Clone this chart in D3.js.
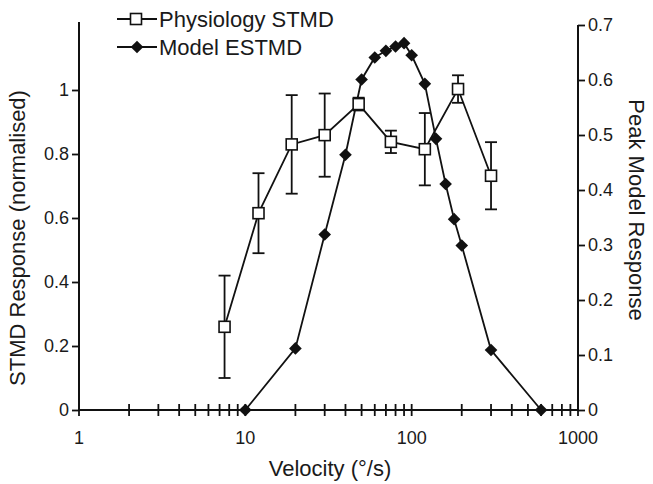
<!DOCTYPE html>
<html><head><meta charset="utf-8">
<script src="https://cdn.jsdelivr.net/npm/d3@7"></script>
<style>body{margin:0;background:#fff}svg{display:block}text{font-family:"Liberation Sans",Arial,sans-serif;fill:#1a1a1a}</style>
</head><body>
<svg id="c" width="653" height="484"></svg>
<script>
// Physiology STMD (left axis)
const physVel = [7.5, 12, 19, 30, 48, 75, 120, 190, 300];
const physResp = [0.26, 0.615, 0.83, 0.859, 0.956, 0.838, 0.815, 1.003, 0.732];
const physErr = [0.16, 0.125, 0.154, 0.13, 0.02, 0.035, 0.113, 0.043, 0.105];
// Model ESTMD (right axis)
const modelVel = [10, 20, 30, 40, 50, 60, 70, 80, 90, 100, 120, 140, 160, 180, 200, 300, 600];
const modelResp = [0, 0.112, 0.319, 0.464, 0.601, 0.641, 0.653, 0.661, 0.667, 0.645, 0.593, 0.493, 0.411, 0.347, 0.299, 0.109, 0];
const xTicks = [1, 10, 100, 1000];
const leftTicks = [0, 0.2, 0.4, 0.6, 0.8, 1];
const rightTicks = [0, 0.1, 0.2, 0.3, 0.4, 0.5, 0.6, 0.7];
const legendLabels = ["Physiology STMD", "Model ESTMD"];

const svg = d3.select("#c");
const X0 = 79, X1 = 578, Y0 = 410;
const x = d3.scaleLog().domain([1, 1000]).range([X0, X1]);
const yL = d3.scaleLinear().domain([0, 1.2]).range([Y0, 26]);
const yR = d3.scaleLinear().domain([0, 0.7]).range([Y0, 25]);
const ink = "#111";
const FONT = '"Liberation Sans",Arial,sans-serif';

// minor ticks
const minor = [];
for (let d = 1; d < 1000; d *= 10) for (let k = 2; k <= 9; k++) minor.push(d * k);

// x axis
const gx = svg.append("g");
gx.append("line").attr("x1", X0).attr("x2", X1).attr("y1", Y0).attr("y2", Y0).attr("stroke", ink).attr("stroke-width", 2);
gx.selectAll("line.t").data(xTicks.concat(minor)).enter().append("line")
  .attr("x1", d => x(d)).attr("x2", d => x(d)).attr("y1", Y0 - 6).attr("y2", Y0 + 6)
  .attr("stroke", ink).attr("stroke-width", 1.8);
gx.selectAll("text").data(xTicks).enter().append("text")
  .attr("x", d => x(d)).attr("y", Y0 + 34).attr("text-anchor", "middle")
  .style("font-size", "18px").text(d => d);
svg.append("text").attr("x", 330).attr("y", 476).attr("text-anchor", "middle")
  .style("font-size", "22px").text("Velocity (\u00B0/s)");

// left axis
const gl = svg.append("g").attr("transform", `translate(${X0},0)`)
  .call(d3.axisLeft(yL).tickValues(leftTicks).tickSize(7).tickPadding(3).tickFormat(d3.format("~g")));
gl.select(".domain").attr("stroke", ink).attr("stroke-width", 2).attr("d", `M0,${Y0}V22`);
gl.selectAll(".tick line").attr("stroke", ink).attr("stroke-width", 1.8);
gl.selectAll(".tick text").style("font-size", "18px").style("font-family", FONT).attr("fill", ink);
svg.append("text").attr("transform", "translate(25,238) rotate(-90)").attr("text-anchor", "middle")
  .style("font-size", "22px").text("STMD Response (normalised)");

// right axis
const gr = svg.append("g").attr("transform", `translate(${X1},0)`)
  .call(d3.axisRight(yR).tickValues(rightTicks).tickSize(7).tickPadding(3).tickFormat(d3.format("~g")));
gr.select(".domain").attr("stroke", ink).attr("stroke-width", 2).attr("d", `M0,${Y0}V25`);
gr.selectAll(".tick line").attr("stroke", ink).attr("stroke-width", 1.8);
gr.selectAll(".tick text").style("font-size", "18px").style("font-family", FONT).attr("fill", ink);
svg.append("text").attr("transform", "translate(629,210) rotate(90)").attr("text-anchor", "middle")
  .style("font-size", "22px").text("Peak Model Response");

// model line + diamonds
const model = modelVel.map((v, i) => ({v, r: modelResp[i]}));
svg.append("path").datum(model).attr("fill", "none").attr("stroke", ink).attr("stroke-width", 1.8)
  .attr("d", d3.line().x(d => x(d.v)).y(d => yR(d.r)));
const diamond = d3.symbol().type(d3.symbolSquare).size(80)();
svg.selectAll("path.dm").data(model).enter().append("path")
  .attr("d", diamond).attr("fill", ink)
  .attr("transform", d => `translate(${x(d.v)},${yR(d.r)}) rotate(45)`);

// physiology
const phys = physVel.map((v, i) => ({v, r: physResp[i], e: physErr[i]}));
const eb = svg.append("g").attr("stroke", ink).attr("stroke-width", 1.8);
phys.forEach(d => {
  const cx = x(d.v), t = yL(d.r + d.e), b = yL(d.r - d.e);
  eb.append("line").attr("x1", cx).attr("x2", cx).attr("y1", t).attr("y2", b);
  eb.append("line").attr("x1", cx - 6).attr("x2", cx + 6).attr("y1", t).attr("y2", t);
  eb.append("line").attr("x1", cx - 6).attr("x2", cx + 6).attr("y1", b).attr("y2", b);
});
svg.append("path").datum(phys).attr("fill", "none").attr("stroke", ink).attr("stroke-width", 1.8)
  .attr("d", d3.line().x(d => x(d.v)).y(d => yL(d.r)));
svg.selectAll("rect.sq").data(phys).enter().append("rect")
  .attr("x", d => x(d.v) - 5.5).attr("y", d => yL(d.r) - 5.5).attr("width", 11).attr("height", 11)
  .attr("fill", "#fff").attr("stroke", ink).attr("stroke-width", 1.6);

// legend
const lg = svg.append("g");
const rows = [19, 47];
rows.forEach((ry, i) => {
  lg.append("line").attr("x1", 117).attr("x2", 157).attr("y1", ry).attr("y2", ry).attr("stroke", ink).attr("stroke-width", 1.8);
  if (i === 0) lg.append("rect").attr("x", 130.5).attr("y", ry - 5.5).attr("width", 11).attr("height", 11).attr("fill", "#fff").attr("stroke", ink).attr("stroke-width", 1.6);
  else lg.append("path").attr("d", diamond).attr("fill", ink).attr("transform", `translate(137,${ry}) rotate(45)`);
  lg.append("text").attr("x", 159).attr("y", ry + 8).style("font-size", "22px").text(legendLabels[i]);
});
</script>
</body></html>
